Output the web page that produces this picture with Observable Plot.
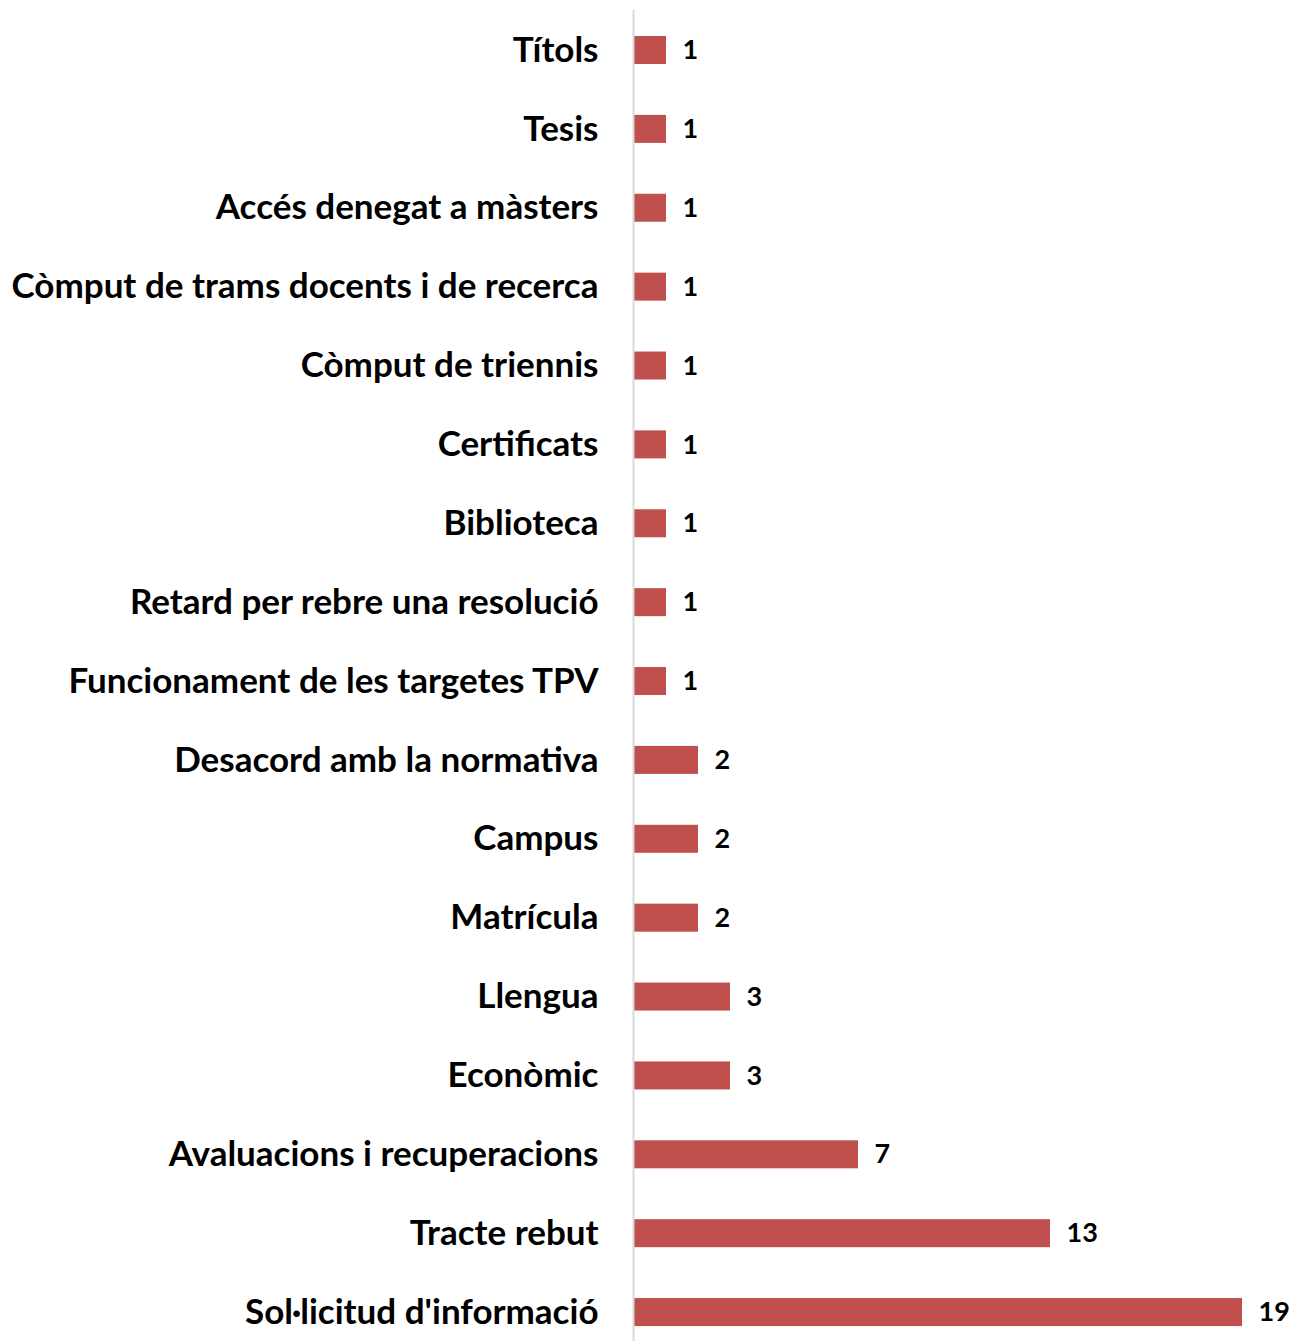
<!DOCTYPE html>
<html>
<head>
<meta charset="utf-8">
<script src="https://cdn.jsdelivr.net/npm/d3@7"></script>
<script src="https://cdn.jsdelivr.net/npm/@observablehq/plot@0.6"></script>
<style>
  html, body { margin: 0; padding: 0; background: #fff; }
  #chart svg { display: block; }
</style>
</head>
<body>
<div id="chart"></div>
<script>
const categories = [
  "Títols",
  "Tesis",
  "Accés denegat a màsters",
  "Còmput de trams docents i de recerca",
  "Còmput de triennis",
  "Certificats",
  "Biblioteca",
  "Retard per rebre una resolució",
  "Funcionament de les targetes TPV",
  "Desacord amb la normativa",
  "Campus",
  "Matrícula",
  "Llengua",
  "Econòmic",
  "Avaluacions i recuperacions",
  "Tracte rebut",
  "Sol·licitud d'informació"
];
const values = [1, 1, 1, 1, 1, 1, 1, 1, 1, 2, 2, 2, 3, 3, 7, 13, 19];

const data = categories.map((c, i) => ({category: c, value: values[i]}));

const font = "Lato, 'Open Sans', sans-serif";

const chart = Plot.plot({
  width: 1294,
  height: 1341,
  marginTop: 10,
  marginBottom: 0,
  marginLeft: 634,
  marginRight: 52,
  style: {fontFamily: font, background: "#fff", color: "#000"},
  x: {domain: [0, 19], range: [634, 1242], axis: null},
  y: {domain: categories, range: [10.56, 1351.5], paddingInner: 0.645, paddingOuter: 0.3225, round: false, label: null},
  marks: [
    Plot.barX(data, {y: "category", x: "value", fill: "#c0504d"}),
    Plot.ruleX([0], {dx: -1, stroke: "#d9d9d9", strokeWidth: 2}),
    Plot.text(data, {
      y: "category", x: "value", text: d => String(d.value),
      textAnchor: "start", dx: 16, fontSize: 27, fontWeight: "bold", fill: "#000"
    }),
    Plot.axisY({
      tickSize: 0, tickPadding: 36, fontSize: 35, fontWeight: "bold",
      fill: "#000", label: null
    })
  ]
});

document.getElementById("chart").appendChild(chart);
</script>
</body>
</html>
